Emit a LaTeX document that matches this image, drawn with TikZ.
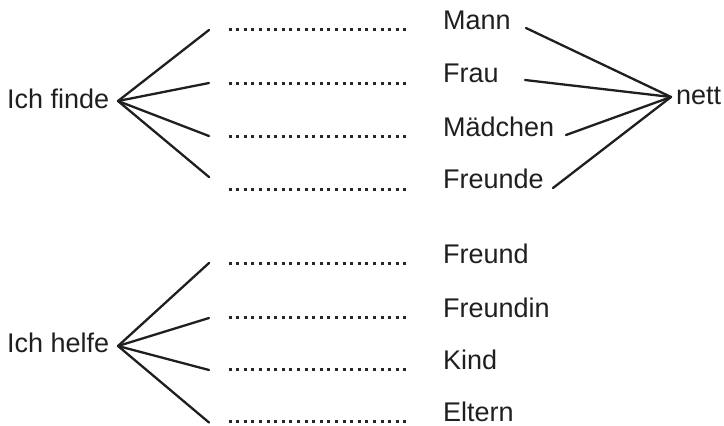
\documentclass[tikz,border=0pt]{standalone}
\usepackage{fontspec}
\setmainfont{Liberation Sans}
\begin{document}
\begin{tikzpicture}[x=1pt,y=-1pt,
  word/.style={font=\fontsize{27}{30}\selectfont, anchor=base west, inner sep=0pt, text=black!88},
  fan/.style={line width=2.3pt, line cap=round, black!88},
  blank/.style={line width=3pt, dash pattern=on 3pt off 4.6pt, black!85}]
\useasboundingbox (0,0) rectangle (724,426);
% upper group
\node[word] (finde) at (7,108) {Ich finde};
\coordinate (fv) at (118,101);
\coordinate (f1) at (209,30);
\coordinate (f2) at (209,83);
\coordinate (f3) at (209,136);
\coordinate (f4) at (209,177);
\foreach \e in {f1,f2,f3,f4} \draw[fan] (fv) -- (\e);
\foreach \y in {29,83,136,189} \draw[blank] (228.5,\y) -- (406.5,\y);
\node[word] (mann) at (443,29) {Mann};
\node[word] (frau) at (443,82) {Frau};
\node[word] (maedchen) at (443,136) {Mädchen};
\node[word] (freunde) at (443,188) {Freunde};
\node[word] (nett) at (676,104) {nett};
\coordinate (nv) at (671,97);
\coordinate (m1) at (526,28);
\coordinate (m2) at (525,80);
\coordinate (m3) at (566,135);
\coordinate (m4) at (553,188);
\foreach \e in {m1,m2,m3,m4} \draw[fan] (\e) -- (nv);
% lower group
\node[word] (helfe) at (7,352) {Ich helfe};
\coordinate (hv) at (118,346);
\coordinate (h1) at (209,263);
\coordinate (h2) at (209,318);
\coordinate (h3) at (209,370);
\coordinate (h4) at (209,422.5);
\foreach \e in {h1,h2,h3,h4} \draw[fan] (hv) -- (\e);
\foreach \y in {263,317,369,421.5} \draw[blank] (228.5,\y) -- (406.5,\y);
\node[word] (freund) at (443,263) {Freund};
\node[word] (freundin) at (443,317) {Freundin};
\node[word] (kind) at (443,369) {Kind};
\node[word] (eltern) at (443,421) {Eltern};
\end{tikzpicture}
\end{document}
